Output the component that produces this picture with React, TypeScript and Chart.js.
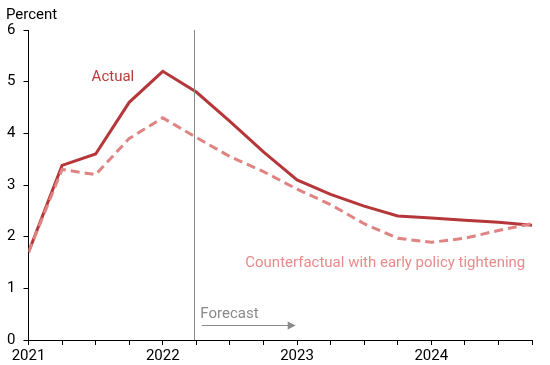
import React, { useEffect, useRef } from "react";
import { Chart, registerables } from "chart.js";

Chart.register(...registerables);

const quarters = [
  2021, 2021.25, 2021.5, 2021.75, 2022, 2022.25, 2022.5, 2022.75,
  2023, 2023.25, 2023.5, 2023.75, 2024, 2024.25, 2024.5, 2024.75,
];
const actual = [1.7, 3.38, 3.6, 4.6, 5.2, 4.8, 4.23, 3.64, 3.1, 2.82, 2.59, 2.4, 2.36, 2.32, 2.28, 2.22];
const counterfactual = [1.7, 3.3, 3.2, 3.9, 4.3, 3.92, 3.55, 3.26, 2.92, 2.62, 2.25, 1.97, 1.89, 1.97, 2.12, 2.25];
const yearLabels = [2021, 2022, 2023, 2024];
const forecastStart = 2022.23;

const ACTUAL_COLOR = "#b5373a";
const CF_COLOR = "#df8383";
const FONT = "Roboto";
const FS = 15;

const annotationPlugin = {
  id: "annotations",
  afterDatasetsDraw(chart: any) {
    const { ctx, scales, chartArea } = chart;
    const xs = scales.x;
    const ys = scales.y;
    ctx.save();
    const fx = Math.round(xs.getPixelForValue(forecastStart)) + 0.5;
    ctx.strokeStyle = "#8a8a8a";
    ctx.lineWidth = 1;
    ctx.beginPath();
    ctx.moveTo(fx, chartArea.top);
    ctx.lineTo(fx, chartArea.bottom);
    ctx.stroke();

    ctx.font = `${FS}px ${FONT}`;
    ctx.textBaseline = "alphabetic";
    ctx.fillStyle = "#8a8a8a";
    ctx.textAlign = "left";
    ctx.fillText("Forecast", xs.getPixelForValue(2022.28), ys.getPixelForValue(0.43));
    const ay = Math.round(ys.getPixelForValue(0.29)) + 0.5;
    const ax0 = xs.getPixelForValue(2022.29);
    const ax1 = xs.getPixelForValue(2022.99);
    ctx.beginPath();
    ctx.moveTo(ax0, ay);
    ctx.lineTo(ax1 - 6, ay);
    ctx.stroke();
    ctx.beginPath();
    ctx.moveTo(ax1, ay);
    ctx.lineTo(ax1 - 8, ay - 4);
    ctx.lineTo(ax1 - 8, ay + 4);
    ctx.closePath();
    ctx.fill();

    ctx.fillStyle = "#b93b3b";
    ctx.fillText("Actual", xs.getPixelForValue(2021.47), ys.getPixelForValue(5.02));
    ctx.fillStyle = "#e58c8a";
    ctx.textAlign = "right";
    ctx.fillText(
      "Counterfactual with early policy tightening",
      xs.getPixelForValue(2024.7),
      ys.getPixelForValue(1.41)
    );

    ctx.fillStyle = "#000";
    ctx.textAlign = "left";
    ctx.fillText("Percent", 6, 19);
    ctx.restore();
  },
};

export default function App() {
  const ref = useRef<HTMLCanvasElement | null>(null);
  useEffect(() => {
    if (!ref.current) return;
    const chart = new Chart(ref.current, {
      type: "line",
      data: {
        datasets: [
          {
            label: "Counterfactual",
            data: quarters.map((q, i) => ({ x: q, y: counterfactual[i] })),
            borderColor: CF_COLOR,
            borderWidth: 3,
            borderDash: [9, 5],
            pointRadius: 0,
            tension: 0,
            fill: false,
          },
          {
            label: "Actual",
            data: quarters.map((q, i) => ({ x: q, y: actual[i] })),
            borderColor: ACTUAL_COLOR,
            borderWidth: 3,
            pointRadius: 0,
            tension: 0,
            fill: false,
          },
        ],
      },
      options: {
        animation: false,
        responsive: false,
        maintainAspectRatio: false,
        layout: { padding: { top: 30, right: 18, left: 0, bottom: 0 } },
        plugins: { legend: { display: false }, tooltip: { enabled: false } },
        scales: {
          x: {
            type: "linear",
            min: quarters[0],
            max: quarters[quarters.length - 1],
            afterBuildTicks: (scale: any) => {
              scale.ticks = quarters.map((q) => ({ value: q }));
            },
            afterFit: (scale: any) => {
              scale.height = 25;
            },
            grid: { drawOnChartArea: false, drawTicks: true, tickLength: 5, tickColor: "#000" },
            border: { color: "#000", width: 1 },
            ticks: {
              autoSkip: false,
              maxRotation: 0,
              padding: 2,
              color: "#000",
              font: { family: FONT, size: FS },
              callback: (v: any) => (yearLabels.includes(Number(v)) ? String(v) : ""),
            },
          },
          y: {
            min: 0,
            max: 6,
            afterFit: (scale: any) => {
              scale.width = 28.5;
            },
            grid: { drawOnChartArea: false, drawTicks: true, tickLength: 5, tickColor: "#000" },
            border: { color: "#000", width: 1 },
            ticks: {
              stepSize: 1,
              padding: 8,
              color: "#000",
              font: { family: FONT, size: FS },
            },
          },
        },
      },
      plugins: [annotationPlugin],
    });
    return () => chart.destroy();
  }, []);
  return (
    <div style={{ position: "fixed", left: 0, top: 0, width: 550, height: 365, background: "#fff" }}>
      <canvas ref={ref} width={550} height={365} style={{ width: 550, height: 365 }} />
    </div>
  );
}
